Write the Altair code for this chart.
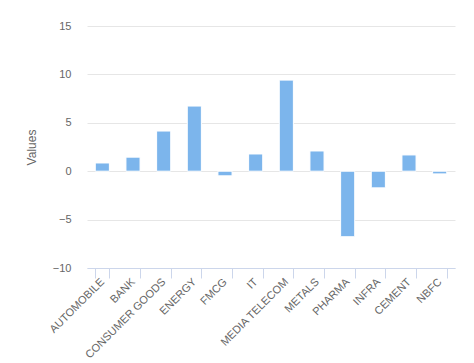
import altair as alt
import pandas as pd

categories = ["AUTOMOBILE", "BANK", "CONSUMER GOODS", "ENERGY", "FMCG", "IT",
              "MEDIA TELECOM", "METALS", "PHARMA", "INFRA", "CEMENT", "NBFC"]
values = [0.85, 1.45, 4.15, 6.73, -0.48, 1.78, 9.41, 2.09, -6.77, -1.72, 1.68, -0.28]
y_ticks = [-10, -5, 0, 5, 10, 15]

df = pd.DataFrame({"category": categories, "value": values})

FONT = "Liberation Sans"

chart = alt.Chart(df).mark_bar(
    color="#7cb5ec", stroke="white", strokeWidth=1
).encode(
    x=alt.X("category:N", sort=categories, title=None,
            scale=alt.Scale(paddingInner=0.54, paddingOuter=0.27),
            axis=alt.Axis(labelAngle=-45, labelAlign="right", labelBaseline="middle",
                          labelColor="#666666", labelFontSize=11, labelFont=FONT,
                          domainColor="#ccd6eb", tickColor="#ccd6eb", tickSize=10,
                          tickBand="extent", labelPadding=2, grid=False)),
    y=alt.Y("value:Q", title="Values",
            scale=alt.Scale(domain=[-10, 15], nice=False, zero=False),
            axis=alt.Axis(values=y_ticks, domain=False, ticks=False, labelPadding=16,
                          labelColor="#666666", labelFontSize=11, labelFont=FONT,
                          titleColor="#666666", titleFontSize=12, titleFont=FONT,
                          titleFontWeight="normal", titlePadding=14,
                          gridColor="#e6e6e6", gridWidth=1)),
).properties(
    width=368, height=242,
    autosize=alt.AutoSizeParams(type="none"),
    padding={"left": 79, "top": 18, "right": 11, "bottom": 92},
    background="white",
).configure_view(strokeWidth=0)

chart.save("out.html", embed_options={"renderer": "svg", "actions": False})
